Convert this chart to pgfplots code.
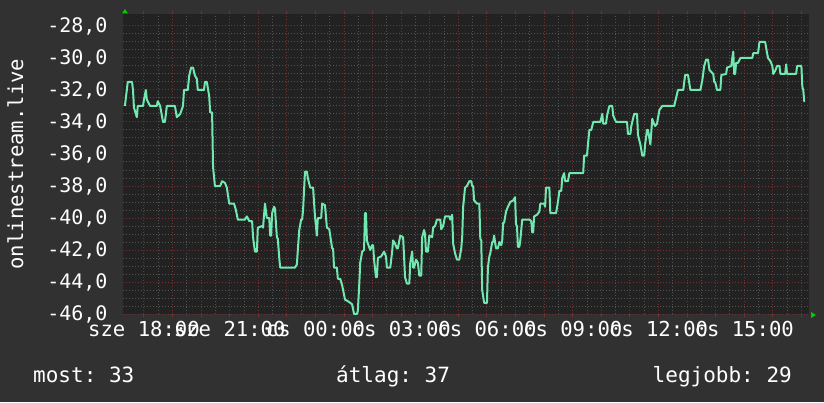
\documentclass[border=0pt]{standalone}
\usepackage{fontspec}
\setmainfont{DejaVu Sans Mono}
\usepackage{pgfplots}
\pgfplotsset{compat=1.18}
\definecolor{outerbg}{RGB}{49,49,49}
\definecolor{plotbg}{RGB}{34,34,34}
\definecolor{majgrid}{RGB}{118,48,48}
\definecolor{mingrid}{RGB}{82,82,82}
\definecolor{trace}{RGB}{112,232,176}
\definecolor{arrowgreen}{RGB}{0,204,0}
\frenchspacing
\begin{document}
\begin{tikzpicture}
\fill[outerbg] (-123pt,-88pt) rectangle (701pt,314pt);
\begin{axis}[
  at={(0,0)}, anchor=south west,
  width=686pt, height=300pt, scale only axis,
  xmin=-44, xmax=1396, ymin=-46, ymax=-27.25,
  axis background/.style={fill=plotbg},
  axis line style={draw=none},
  xtick={0,60,...,1380},
  xticklabels={sze 18:00,,,sze 21:00,,,cs 00:00,,,cs 03:00,,,cs 06:00,,,cs 09:00,,,cs 12:00,,,cs 15:00,,},
  ytick={-46,-44,...,-28},
  yticklabels={{-46,0},{-44,0},{-42,0},{-40,0},{-38,0},{-36,0},{-34,0},{-32,0},{-30,0},{-28,0}},
  minor x tick num=1, minor y tick num=3,
  grid=both,
  major grid style={majgrid, dash pattern=on 1pt off 2pt, line width=1pt},
  minor grid style={mingrid, dash pattern=on 1pt off 2pt, line width=1pt},
  tick align=outside,
  major tick length=3pt, minor tick length=0pt,
  xtick style={majgrid, line width=1pt},
  ytick style={draw=none},
  tick label style={white, font=\fontsize{20}{24}\selectfont},
  xticklabel style={yshift=-1pt, font=\fontsize{20.6}{24}\selectfont},
  yticklabel style={xshift=-9pt},
  ylabel={onlinestream.live},
  ylabel style={white, font=\fontsize{20.6}{24}\selectfont, at={(axis description cs:-0.157,0.5)}, anchor=center},
]
\addplot[trace, line width=2pt, line join=round] coordinates {
(-40,-33.0) (-34,-31.5) (-25,-31.5) (-23,-32.0) (-21,-33.1) (-15,-33.7) (-13,-33.0)
(-2,-33.0) (0,-32.6) (4,-32.0) (6,-32.6) (13,-33.0) (27,-33.0) (29,-32.7) (34,-33.0)
(40,-34.0) (44,-34.0) (48,-33.0) (65,-33.0) (69,-33.7) (76,-33.5) (82,-33.0) (84,-32.0)
(92,-32.0) (95,-31.1) (99,-30.6) (103,-30.6) (107,-31.1) (111,-31.3) (113,-32.0)
(126,-32.0) (128,-31.5) (132,-31.5) (137,-32.4) (139,-33.4) (143,-33.4) (145,-36.8)
(149,-38.0) (160,-38.0) (164,-37.7) (170,-37.8) (174,-38.1) (179,-39.1) (189,-39.1)
(193,-39.5) (197,-40.1) (212,-40.1) (216,-39.9) (221,-40.2) (227,-40.2) (229,-41.2)
(233,-42.1) (237,-42.1) (239,-40.6) (248,-40.5) (250,-40.6) (254,-39.1) (258,-40.0)
(263,-40.0) (265,-41.1) (267,-41.1) (269,-39.7) (273,-39.3) (275,-39.4) (279,-41.2)
(281,-41.3) (284,-42.5) (286,-43.1) (317,-43.1) (321,-42.9) (323,-42.0) (326,-40.75)
(330,-40.1) (332,-40.1) (334,-39.5) (338,-37.1) (342,-37.1) (344,-37.5) (349,-38.1)
(355,-38.1) (359,-39.9) (363,-41.1) (365,-40.0) (372,-40.0) (374,-39.1) (380,-39.2)
(384,-40.6) (389,-40.7) (395,-41.9) (397,-41.9) (399,-43.1) (405,-43.1) (407,-43.8)
(412,-43.8) (416,-44.2) (418,-44.5) (422,-45.1) (428,-45.2) (433,-45.3) (437,-45.4)
(441,-46.0) (447,-46.0) (449,-45.8) (452,-44.1) (454,-42.8) (458,-42.1) (462,-42.0)
(464,-39.7) (466,-39.7) (468,-41.4) (470,-41.6) (475,-42.0) (479,-41.7) (481,-41.7)
(483,-42.6) (487,-43.7) (489,-43.7) (491,-42.5) (498,-42.4) (504,-42.1) (508,-42.4)
(510,-43.1) (517,-43.1) (521,-42.1) (523,-41.4) (527,-41.6) (531,-41.9) (533,-41.9)
(538,-41.1) (544,-41.2) (546,-42.4) (548,-43.7) (552,-44.1) (557,-44.1) (559,-42.8)
(563,-42.1) (565,-43.1) (567,-43.1) (571,-42.6) (575,-42.8) (578,-43.6) (582,-43.6)
(584,-41.2) (588,-40.75) (590,-41.0) (592,-42.1) (596,-42.1) (599,-41.1) (605,-41.2)
(607,-40.6) (611,-40.5) (615,-40.1) (622,-40.1) (624,-40.7) (628,-40.5) (632,-39.9)
(641,-39.9) (643,-40.1) (647,-39.8) (649,-41.6) (653,-42.2) (657,-42.6) (662,-42.6)
(666,-41.9) (668,-41.2) (670,-39.3) (674,-38.1) (678,-38.0) (683,-37.7) (687,-37.7)
(689,-38.0) (691,-38.0) (693,-38.9) (699,-39.1) (704,-39.1) (706,-41.3) (708,-41.4)
(710,-44.5) (714,-45.3) (720,-45.3) (722,-43.1) (725,-42.4) (727,-42.2) (731,-41.5)
(733,-41.5) (735,-41.1) (739,-41.9) (743,-41.9) (746,-41.5) (750,-41.7) (752,-41.4)
(754,-40.3) (756,-40.3) (760,-39.6) (764,-39.3) (769,-39.0) (775,-38.9) (779,-38.7)
(781,-40.4) (783,-40.5) (785,-41.8) (788,-41.8) (790,-41.4) (794,-40.1) (809,-40.1)
(813,-40.2) (815,-40.9) (817,-40.9) (819,-39.9) (825,-39.8) (830,-39.6) (832,-39.1)
(840,-39.1) (842,-39.3) (844,-38.1) (851,-38.1) (853,-39.7) (865,-39.7) (869,-39.0)
(872,-38.3) (876,-38.3) (878,-37.5) (882,-37.2) (884,-37.7) (890,-37.7) (893,-37.2)
(922,-37.2) (924,-36.1) (930,-36.1) (932,-35.4) (935,-34.5) (939,-34.5) (943,-34.0)
(958,-34.0) (962,-33.5) (964,-34.1) (970,-34.1) (972,-33.6) (977,-33.0) (983,-33.0)
(985,-33.6) (991,-34.0) (1014,-34.0) (1016,-34.75) (1021,-34.75) (1023,-34.25)
(1025,-34.0) (1029,-33.5) (1035,-33.5) (1037,-34.8) (1042,-35.4) (1046,-36.1)
(1050,-36.1) (1052,-35.4) (1056,-34.5) (1058,-34.5) (1063,-35.4) (1067,-33.8)
(1069,-34.0) (1073,-34.25) (1077,-34.1) (1082,-33.25) (1088,-33.0) (1113,-33.0)
(1117,-32.5) (1121,-32.0) (1132,-32.0) (1136,-31.06) (1142,-31.06) (1147,-32.0)
(1168,-32.0) (1172,-31.4) (1176,-30.5) (1180,-30.1) (1184,-30.1) (1187,-30.75)
(1195,-31.0) (1197,-31.5) (1199,-31.5) (1203,-32.0) (1210,-32.0) (1212,-31.06)
(1222,-31.0) (1224,-30.6) (1233,-30.5) (1235,-30.0) (1237,-29.6) (1239,-31.0)
(1241,-31.0) (1243,-30.3) (1247,-30.3) (1252,-30.0) (1277,-30.0) (1279,-29.7)
(1289,-29.7) (1292,-29.0) (1304,-29.0) (1308,-29.7) (1310,-30.0) (1315,-30.2)
(1319,-30.5) (1321,-31.0) (1325,-30.8) (1329,-30.5) (1334,-30.5) (1336,-31.0)
(1346,-31.0) (1348,-30.4) (1350,-31.0) (1369,-31.0) (1371,-30.5) (1380,-30.5)
(1382,-31.8) (1384,-32.0) (1386,-32.7) (1388,-32.7)
};
\end{axis}
\fill[arrowgreen] (2pt,305pt) -- (-1pt,300.5pt) -- (5pt,300.5pt) -- cycle;
\fill[arrowgreen] (693pt,-1pt) -- (688pt,2pt) -- (688pt,-4pt) -- cycle;
\node[white, anchor=base west, inner sep=0pt, font=\fontsize{21}{24}\selectfont] at (-90pt,-68pt) {most: 33};
\node[white, anchor=base west, inner sep=0pt, font=\fontsize{21}{24}\selectfont] at (213pt,-68pt) {átlag: 37};
\node[white, anchor=base east, inner sep=0pt, font=\fontsize{21}{24}\selectfont] at (669pt,-68pt) {legjobb: 29};
\end{tikzpicture}
\end{document}
